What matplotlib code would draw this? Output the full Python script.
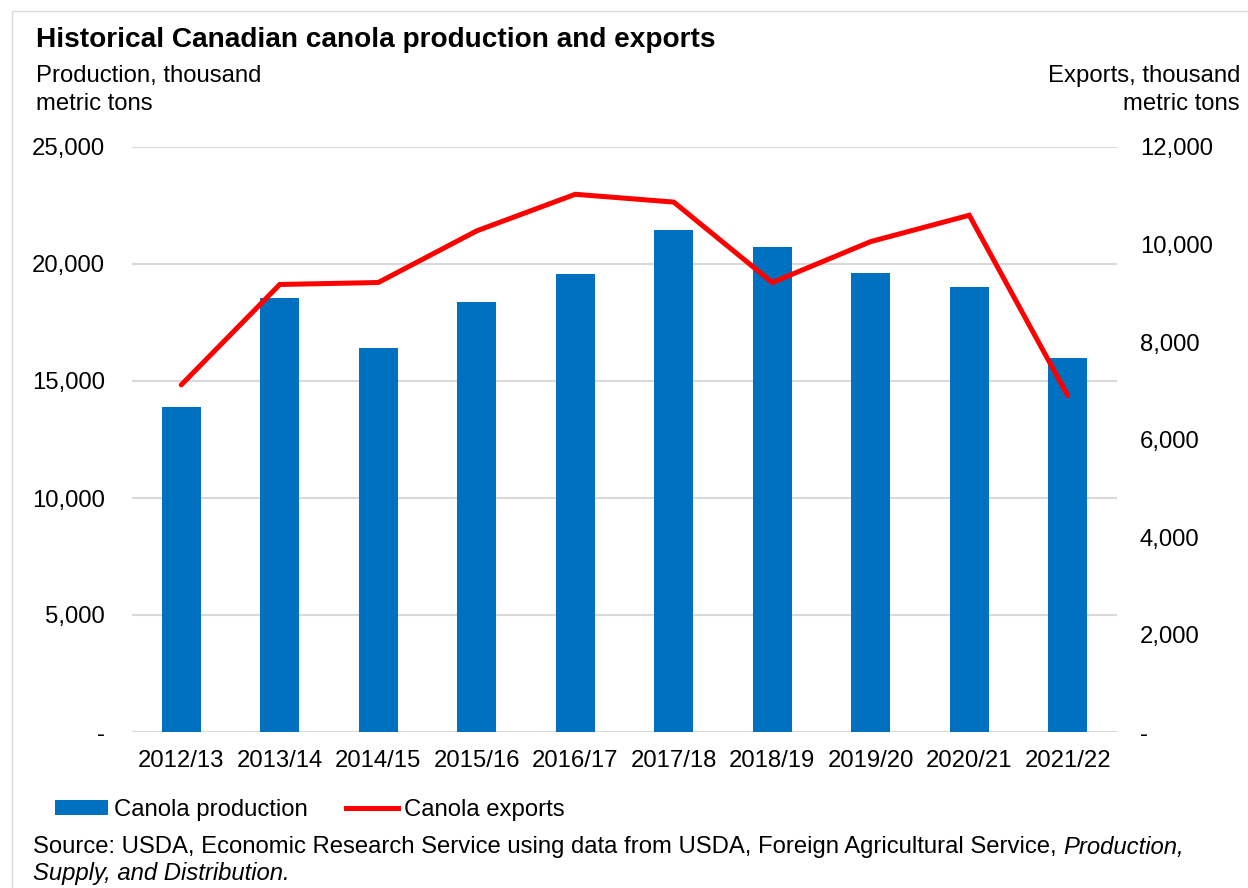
import matplotlib
matplotlib.use("Agg")
import matplotlib.pyplot as plt
from matplotlib.patches import Rectangle, Patch
from matplotlib.lines import Line2D
from matplotlib.ticker import FuncFormatter

plt.rcParams["font.family"] = ["Liberation Sans", "DejaVu Sans"]

# datos (miles de toneladas métricas)
years = ["2012/13", "2013/14", "2014/15", "2015/16", "2016/17",
         "2017/18", "2018/19", "2019/20", "2020/21", "2021/22"]
production = [13880, 18550, 16410, 18360, 19590, 21440, 20730, 19600, 19000, 16000]
exports = [7120, 9180, 9220, 10280, 11030, 10870, 9220, 10060, 10600, 6900]

BAR_COLOR = "#0070C0"
LINE_COLOR = "#FF0000"
GRID_COLOR = "#D9D9D9"
FS = 17.2

W, H = 1248, 888
fig = plt.figure(figsize=(W / 100, H / 100), dpi=100)


def fx(px):
    return px / W


def fy(py):
    return 1 - py / H


# marco exterior
fig.patches.append(Rectangle((fx(12), fy(950)), fx(1300), fy(11) - fy(950),
                             transform=fig.transFigure, fill=False,
                             edgecolor="#D9D9D9", linewidth=1))

ax = fig.add_axes([fx(132), fy(732), fx(1117) - fx(132), fy(147) - fy(732)])
ax2 = ax.twinx()

x = list(range(len(years)))
ax.bar(x, production, width=0.4, color=BAR_COLOR, zorder=3)
ax2.plot(x, exports, color=LINE_COLOR, linewidth=3.6, solid_capstyle="round",
         solid_joinstyle="miter", zorder=4)

ax.set_xlim(-0.5, len(years) - 0.5)
ax.set_ylim(0, 25000)
ax2.set_ylim(0, 12000)
ax.set_yticks(range(0, 25001, 5000))
ax2.set_yticks(range(0, 12001, 2000))


def fmt(v, pos):
    return "-" if v == 0 else f"{int(v):,}"


ax.yaxis.set_major_formatter(FuncFormatter(fmt))
ax2.yaxis.set_major_formatter(FuncFormatter(fmt))
ax.set_xticks(x)
ax.set_xticklabels(years)

ax.grid(axis="y", color=GRID_COLOR, linewidth=1.5, zorder=0)
ax.set_axisbelow(True)
for a in (ax, ax2):
    for s in a.spines.values():
        s.set_visible(False)
ax.tick_params(axis="y", length=0, pad=19.5, labelsize=FS)
ax2.tick_params(axis="y", length=0, pad=16.5, labelsize=FS)
ax.tick_params(axis="x", length=0, pad=13, labelsize=FS)
ax.set_zorder(1)
ax2.set_zorder(2)
ax2.patch.set_visible(False)

# títulos
fig.text(fx(36), fy(40), "Historical Canadian canola production and exports",
         fontsize=20.2, fontweight="bold", ha="left", va="center")
fig.text(fx(36), fy(90), "Production, thousand\nmetric tons", fontsize=FS,
         ha="left", va="center", linespacing=1.34)
fig.text(fx(1240), fy(90), "Exports, thousand\nmetric tons", fontsize=FS,
         ha="right", va="center", linespacing=1.34, multialignment="right")

# leyenda
handles = [Patch(facecolor=BAR_COLOR, edgecolor="none", label="Canola production"),
           Line2D([0], [0], color=LINE_COLOR, linewidth=3.6, label="Canola exports")]
fig.legend(handles=handles, loc="center left", bbox_to_anchor=(fx(55), fy(810)),
           ncol=2, frameon=False, fontsize=FS, handlelength=2.2, handleheight=0.55,
           handletextpad=0.25, columnspacing=1.6, borderpad=0, borderaxespad=0)

# fuente
src = fig.text(fx(33), fy(847),
               "Source: USDA, Economic Research Service using data from USDA, Foreign Agricultural Service, ",
               fontsize=FS, ha="left", va="center")
renderer = fig.canvas.get_renderer()
bb = src.get_window_extent(renderer)
fig.text(bb.x1 / W, fy(847), "Production,", fontsize=FS, style="italic",
         ha="left", va="center")
fig.text(fx(33), fy(873), "Supply, and Distribution.", fontsize=FS,
         style="italic", ha="left", va="center")

fig.savefig("out.png", dpi=100)
